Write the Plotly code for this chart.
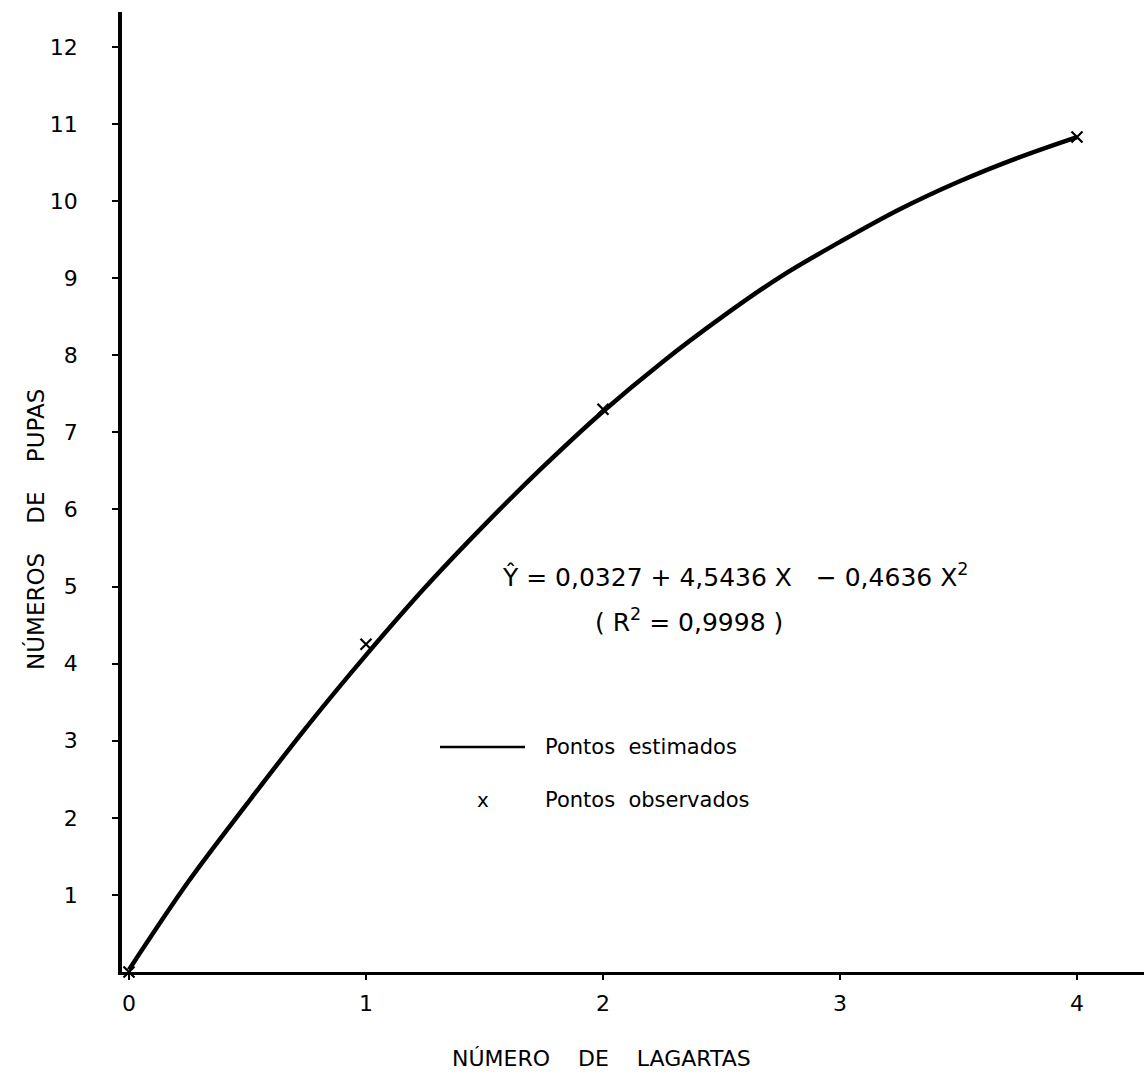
import plotly.graph_objects as go

# Data
est_x = [0, 0.25, 0.5, 0.75, 1, 1.25, 1.5, 1.75, 2, 2.25, 2.5, 2.75, 3, 3.25, 3.5, 3.75, 4]
est_y = [0.03, 1.17, 2.19, 3.18, 4.11, 4.99, 5.80, 6.56, 7.27, 7.91, 8.49, 9.02, 9.47, 9.89, 10.25, 10.56, 10.83]
obs_x = [0, 1, 2, 4]
obs_y = [0.0, 4.25, 7.30, 10.83]
x_ticks = [0, 1, 2, 3, 4]
x_ticktext = ["0", "1", "2", "3", "4"]
y_ticks = list(range(1, 13))
y_ticktext = [str(v) for v in y_ticks]

FONT = "DejaVu Sans"
W, H = 1144, 1075
L, R, T, B = 122, 0, 12, 103
SP = "\u00a0"

fig = go.Figure()
fig.add_trace(go.Scatter(x=est_x, y=est_y, mode="lines",
                         line=dict(color="black", width=4.5, shape="spline", smoothing=1.0),
                         name="Pontos estimados", showlegend=False, cliponaxis=False))
fig.add_trace(go.Scatter(x=obs_x, y=obs_y, mode="markers",
                         marker=dict(symbol="x-thin", size=11, line=dict(color="black", width=2.2)),
                         name="Pontos observados", showlegend=False, cliponaxis=False))

pw = W - L - R
ph = H - T - B
def px(xp):
    return (xp - L) / pw
def py(yp):
    return (H - B - yp) / ph

annotations = [
    dict(text="Ŷ = 0,0327 + 4,5436" + SP + "X" + SP * 3 + "−" + SP + "0,4636" + SP + "X<sup>2</sup>",
         x=px(500), y=py(575),
         xref="paper", yref="paper", xanchor="left", yanchor="middle", showarrow=False,
         font=dict(family=FONT, size=25, color="black")),
    dict(text="(" + SP + "R<sup>2</sup> = 0,9998" + SP + ")", x=px(593), y=py(620),
         xref="paper", yref="paper", xanchor="left", yanchor="middle", showarrow=False,
         font=dict(family=FONT, size=25, color="black")),
    dict(text="Pontos" + SP * 2 + "estimados", x=px(543), y=py(747),
         xref="paper", yref="paper", xanchor="left", yanchor="middle", showarrow=False,
         font=dict(family=FONT, size=21, color="black")),
    dict(text="x", x=px(483), y=py(800),
         xref="paper", yref="paper", xanchor="center", yanchor="middle", showarrow=False,
         font=dict(family=FONT, size=20, color="black")),
    dict(text="Pontos" + SP * 2 + "observados", x=px(543), y=py(800),
         xref="paper", yref="paper", xanchor="left", yanchor="middle", showarrow=False,
         font=dict(family=FONT, size=21, color="black")),
    dict(text="NÚMERO" + SP * 4 + "DE" + SP * 4 + "LAGARTAS", x=px(601), y=py(1058),
         xref="paper", yref="paper", xanchor="center", yanchor="middle", showarrow=False,
         font=dict(family=FONT, size=22, color="black")),
    dict(text="NÚMEROS" + SP * 4 + "DE" + SP * 4 + "PUPAS", x=px(35), y=py(530), textangle=-90,
         xref="paper", yref="paper", xanchor="center", yanchor="middle", showarrow=False,
         font=dict(family=FONT, size=23, color="black")),
]

shapes = [
    dict(type="line", xref="paper", yref="paper", x0=px(440), x1=px(525), y0=py(747), y1=py(747),
         line=dict(color="black", width=2.5)),
]

fig.update_layout(
    width=W, height=H,
    margin=dict(l=L, r=R, t=T, b=B, pad=0),
    paper_bgcolor="white", plot_bgcolor="white",
    font=dict(family=FONT, color="black"),
    annotations=annotations, shapes=shapes,
    showlegend=False,
    xaxis=dict(range=[-7/237, (W - 129) / 237], tickvals=x_ticks, ticktext=x_ticktext,
               showgrid=False, zeroline=False, showline=True, linecolor="black", linewidth=2.5,
               ticks="outside", ticklen=5, tickwidth=2, tickcolor="black",
               tickfont=dict(family=FONT, size=22, color="black"), ticklabelstandoff=5),
    yaxis=dict(range=[0, (972 - 12) / 77.1], tickvals=y_ticks, ticktext=y_ticktext,
               showgrid=False, zeroline=False, showline=True, linecolor="black", linewidth=3.5,
               ticks="outside", ticklen=6, tickwidth=2, tickcolor="black",
               tickfont=dict(family=FONT, size=22, color="black"), ticklabelstandoff=30),
)

fig.write_html("out.html")
